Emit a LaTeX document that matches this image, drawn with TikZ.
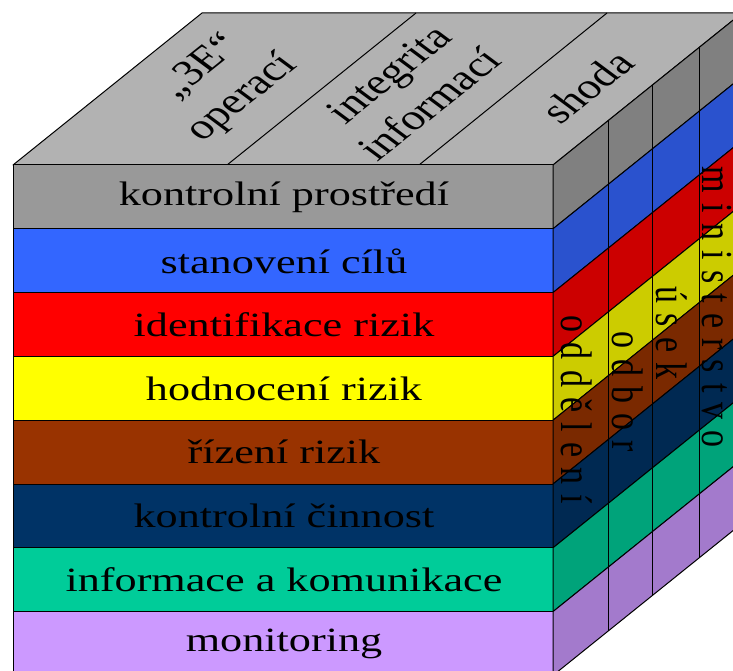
\documentclass[tikz,border=0pt]{standalone}
\usepackage{fontspec}
\setmainfont{Liberation Serif}
\newfontfamily\widefont{Liberation Serif}[FakeStretch=1.3]
\newfontfamily\spacedfont{Liberation Serif}[LetterSpace=30]
\definecolor{topgray}{HTML}{B2B2B2}
\definecolor{fA}{HTML}{999999}\definecolor{sA}{HTML}{808080}
\definecolor{fB}{HTML}{3366FF}\definecolor{sB}{HTML}{2A52CE}
\definecolor{fC}{HTML}{FF0000}\definecolor{sC}{HTML}{CC0000}
\definecolor{fD}{HTML}{FFFF00}\definecolor{sD}{HTML}{CCCC00}
\definecolor{fE}{HTML}{993300}\definecolor{sE}{HTML}{7A2900}
\definecolor{fF}{HTML}{003366}\definecolor{sF}{HTML}{002952}
\definecolor{fG}{HTML}{00CC99}\definecolor{sG}{HTML}{00A37A}
\definecolor{fH}{HTML}{CC99FF}\definecolor{sH}{HTML}{A37ACC}
\tikzset{
  edge/.style={draw=black, line width=1pt, line join=round},
  fronttext/.style={font=\widefont\fontsize{34}{40}\selectfont, text=black, inner sep=0pt},
  toptext/.style={font=\fontsize{36}{44}\selectfont, align=center, text=black, inner sep=0pt, transform shape},
  sidetext/.style={font=\spacedfont\fontsize{34}{40}\selectfont, text=black, inner sep=0pt, transform shape},
}
\begin{document}
\begin{tikzpicture}[x=1pt,y=-1pt]
\useasboundingbox (0,0) rectangle (733,671);
\clip (0,0) rectangle (733,671);
% top face
\filldraw[fill=topgray, edge] (13,165) -- (553,165) -- (742,13) -- (202,13) -- cycle;
\draw[edge] (227,165) -- (416,13);
\draw[edge] (419,165) -- (607,13);
% rows
\foreach \i/\fc/\sc in {0/fA/sA,1/fB/sB,2/fC/sC,3/fD/sD,4/fE/sE,5/fF/sF,6/fG/sG,7/fH/sH}{
  \pgfmathsetmacro{\ya}{165+63.8*\i}
  \pgfmathsetmacro{\yb}{165+63.8*(\i+1)}
  \filldraw[fill=\fc, edge] (13,\ya) rectangle (553,\yb);
  \filldraw[fill=\sc, edge] (553,\ya) -- (553,\yb) -- (742,\yb-152) -- (742,\ya-152) -- cycle;
}
% side column lines
\foreach \xx in {608,652,699}{
  \pgfmathsetmacro{\dy}{(\xx-553)/189*152}
  \draw[edge] (\xx,165-\dy) -- (\xx,675.4-\dy);
}
% front texts
\node[fronttext] (t1) at (284,197) {kontrolní prostředí};
\node[fronttext] (t2) at (284,261) {stanovení cílů};
\node[fronttext] (t3) at (284,325) {identifikace rizik};
\node[fronttext] (t4) at (284,389) {hodnocení rizik};
\node[fronttext] (t5) at (284,452) {řízení rizik};
\node[fronttext] (t6) at (284,516) {kontrolní činnost};
\node[fronttext] (t7) at (284,580) {informace a komunikace};
\node[fronttext] (t8) at (284,644) {monitoring};
% top texts
\begin{scope}[shift={(222,83)}, xscale=1.3, rotate=46]
  \node[toptext] (o1) at (0,0) {„3E“\\operací};
\end{scope}
\begin{scope}[shift={(409,89)}, xscale=1.3, rotate=46]
  \node[toptext] (o2) at (0,0) {integrita\\informací};
\end{scope}
\begin{scope}[shift={(587,87)}, xscale=1.3, rotate=46]
  \node[toptext] (o3) at (0,0) {shoda};
\end{scope}
% side texts
\begin{scope}[shift={(577,410)}, xscale=1.3, rotate=-90]
  \node[sidetext] (s1) at (0,0) {oddělení};
\end{scope}
\begin{scope}[shift={(628,392)}, xscale=1.3, rotate=-90]
  \node[sidetext] (s2) at (0,0) {odbor};
\end{scope}
\begin{scope}[shift={(672,333)}, xscale=1.3, rotate=-90]
  \node[sidetext] (s3) at (0,0) {úsek};
\end{scope}
\begin{scope}[shift={(717,307)}, xscale=1.3, rotate=-90]
  \node[sidetext] (s4) at (0,0) {ministerstvo};
\end{scope}
\end{tikzpicture}
\end{document}
